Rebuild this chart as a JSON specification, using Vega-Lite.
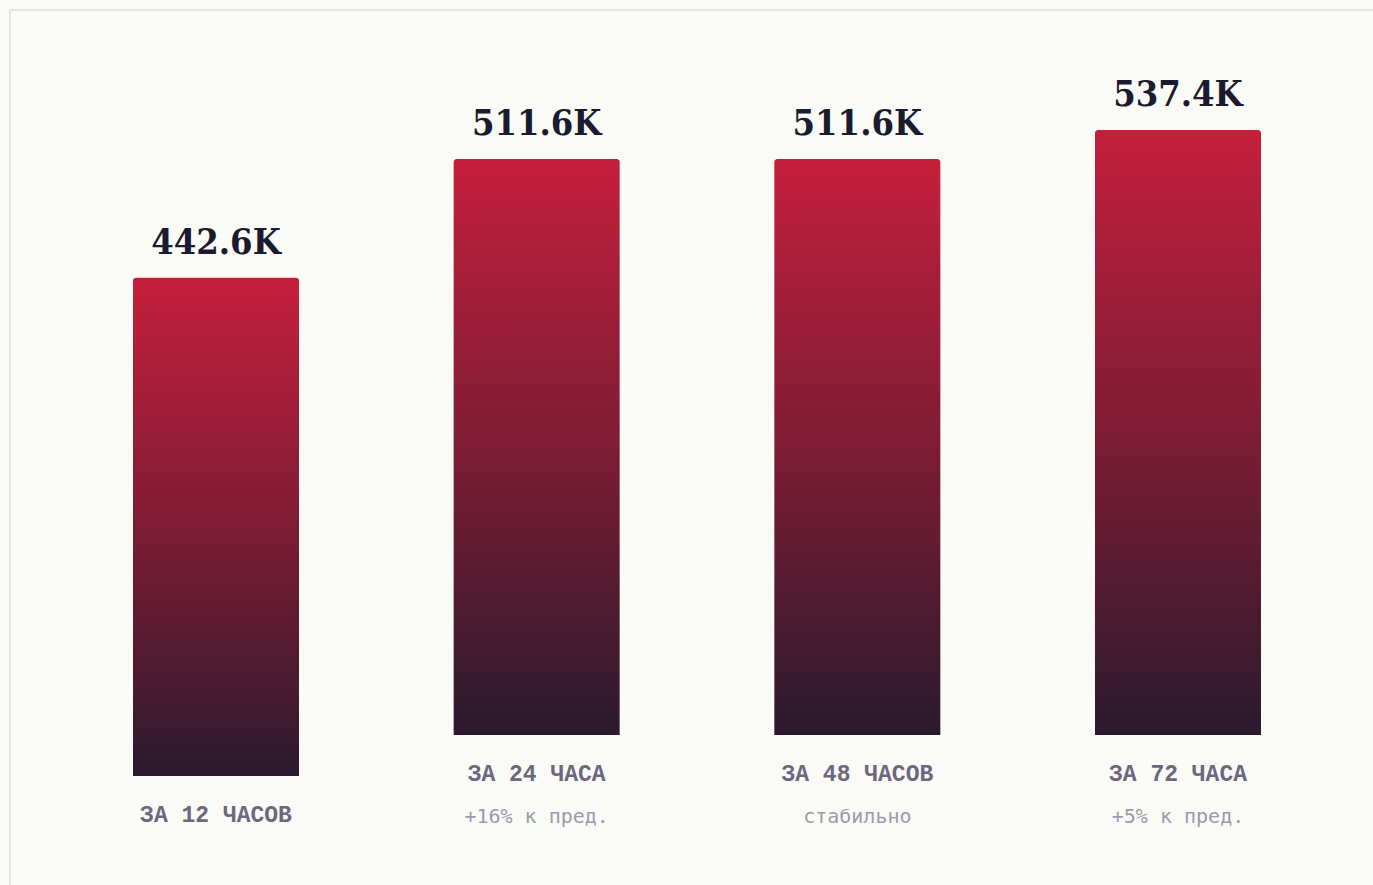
{
  "$schema": "https://vega.github.io/schema/vega-lite/v6.json",
  "autosize": {"type": "none"},
  "padding": {"left": 10, "top": 10, "right": 0, "bottom": 0},
  "width": 1366,
  "height": 878,
  "background": "#fafaf7",
  "config": {
    "view": {"stroke": "#e8e5de", "strokeWidth": 2, "fill": "#fafaf7"}
  },
  "data": {
    "values": [
      {"period": "ЗА 12 ЧАСОВ", "value": 442.6, "label": "442.6K", "note": ""},
      {"period": "ЗА 24 ЧАСА", "value": 511.6, "label": "511.6K", "note": "+16% к пред."},
      {"period": "ЗА 48 ЧАСОВ", "value": 511.6, "label": "511.6K", "note": "стабильно"},
      {"period": "ЗА 72 ЧАСА", "value": 537.4, "label": "537.4K", "note": "+5% к пред."}
    ]
  },
  "encoding": {
    "x": {
      "field": "period",
      "type": "nominal",
      "sort": null,
      "axis": null,
      "scale": {"range": [45.67, 1328.33], "paddingInner": 0, "paddingOuter": 0}
    }
  },
  "layer": [
    {
      "mark": {
        "type": "bar",
        "width": 166,
        "cornerRadiusTopLeft": 3,
        "cornerRadiusTopRight": 3,
        "yOffset": {"expr": "datum.note == '' ? 41 : 0"},
        "y2Offset": {"expr": "datum.note == '' ? 41 : 0"},
        "color": {
          "gradient": "linear",
          "x1": 0, "y1": 0, "x2": 0, "y2": 1,
          "stops": [
            {"offset": 0, "color": "#c51f3b"},
            {"offset": 0.5, "color": "#7d1c34"},
            {"offset": 1, "color": "#2b1a2e"}
          ]
        }
      },
      "encoding": {
        "y": {
          "field": "value",
          "type": "quantitative",
          "axis": null,
          "scale": {"domain": [0, 600], "range": [725, 49.4], "nice": false, "zero": true}
        },
        "y2": {"datum": 0}
      }
    },
    {
      "mark": {
        "type": "text",
        "font": "DejaVu Serif Condensed, DejaVu Serif",
        "fontWeight": "bold",
        "fontSize": 36,
        "color": "#1a1b2e",
        "baseline": "alphabetic",
        "align": "center",
        "dy": -24,
        "yOffset": {"expr": "datum.note == '' ? 41 : 0"}
      },
      "encoding": {
        "y": {"field": "value", "type": "quantitative"},
        "text": {"field": "label"}
      }
    },
    {
      "mark": {
        "type": "text",
        "font": "Liberation Mono",
        "fontWeight": "bold",
        "fontSize": 23,
        "color": "#6b687e",
        "baseline": "alphabetic",
        "align": "center",
        "dy": 46,
        "yOffset": {"expr": "datum.note == '' ? 41 : 0"}
      },
      "encoding": {
        "y": {"datum": 0, "type": "quantitative"},
        "text": {"field": "period"}
      }
    },
    {
      "mark": {
        "type": "text",
        "font": "DejaVu Sans Mono",
        "fontSize": 20,
        "color": "#9d9aac",
        "baseline": "alphabetic",
        "align": "center",
        "dy": 88
      },
      "encoding": {
        "y": {"datum": 0, "type": "quantitative"},
        "text": {"field": "note"}
      }
    }
  ]
}
